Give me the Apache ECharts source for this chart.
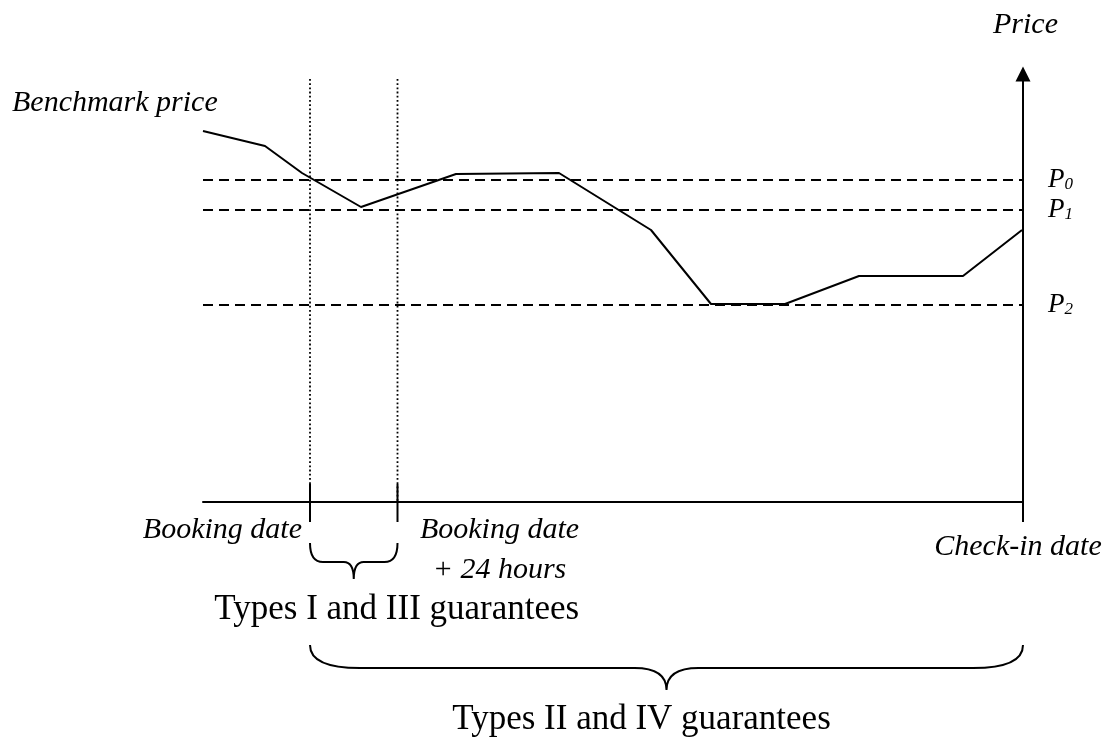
<!DOCTYPE html>
<html><head><meta charset="utf-8">
<script src="https://cdn.jsdelivr.net/npm/echarts@6/dist/echarts.min.js"></script>
<style>html,body{margin:0;padding:0;background:#fff}#c{width:1114px;height:740px}</style>
</head><body><div id="c"></div>
<script>
// ---- data ----
const dates = [0, 6.2, 9.9, 15.8, 25.3, 35.6, 44.8, 50.8, 58.2, 65.6, 76, 81.9];
const benchmarkPrice = [92.75, 89, 82.25, 73.75, 82, 82.25, 68, 49.5, 49.5, 56.5, 56.5, 68];
const priceLevels = [80.5, 73, 49.25];
const priceLevelSubs = ['0', '1', '2'];
const keyDates = [10.7, 19.45, 82];
const keyDateLabels = ['Booking date', 'Booking date\n+ 24 hours', 'Check-in date'];
const guaranteeLabels = ['Types I and III guarantees', 'Types II and IV guarantees'];
const seriesName = 'Benchmark price';
const axisName = 'Price';
const xMax = 82, yMax = 107;

// ---- styles ----
const SERIF = '"Liberation Serif", "Times New Roman", serif';
const ITAL30 = 'italic 30px ' + SERIF;
const ROMAN35 = '35px ' + SERIF;
const black = '#000';

function brace(xL, xR, y0, y1, y2, rc, rm, xm) {
  const d = `M${xL} ${y0} Q${xL} ${y1} ${xL + rc} ${y1} L${xm - rm} ${y1} Q${xm} ${y1} ${xm} ${y2} ` +
            `M${xm} ${y2} Q${xm} ${y1} ${xm + rm} ${y1} L${xR - rc} ${y1} Q${xR} ${y1} ${xR} ${y0}`;
  return { type: 'path', shape: { pathData: d }, style: { fill: 'none', stroke: black, lineWidth: 2 } };
}

function txt(x, y, text, font, align, vAlign, extra) {
  return { type: 'text', x: x, y: y, style: Object.assign({ text: text, font: font, fill: black, align: align, verticalAlign: vAlign }, extra || {}) };
}

function renderAnnotations(params, api) {
  const axisY = api.coord([0, 0])[1];
  const xB = api.coord([keyDates[0], 0])[0];
  const x24 = api.coord([keyDates[1], 0])[0];
  const xC = api.coord([keyDates[2], 0])[0];
  const topY = api.coord([0, yMax])[1];
  const first = api.coord([dates[0], benchmarkPrice[0]]);
  const ch = [];
  [xB, x24].forEach(x => ch.push({ type: 'line', shape: { x1: x, y1: topY + 5, x2: x, y2: axisY },
    style: { stroke: black, lineWidth: 1.8, lineDash: [1.8, 2.4] } }));
  [xB, x24].forEach(x => ch.push({ type: 'line', shape: { x1: x, y1: axisY - 18, x2: x, y2: axisY + 20 },
    style: { stroke: black, lineWidth: 2 } }));
  ch.push({ type: 'line', shape: { x1: xC, y1: axisY, x2: xC, y2: axisY + 20 }, style: { stroke: black, lineWidth: 2 } });
  ch.push(brace(xB, x24, axisY + 41, axisY + 60, axisY + 77, 13, 10, (xB + x24) / 2));
  ch.push(brace(xB, xC, axisY + 143, axisY + 166, axisY + 188, 50, 32, (xB + xC) / 2));
  ch.push(txt(xB - 8, axisY + 28, keyDateLabels[0], ITAL30, 'right', 'middle'));
  ch.push(txt(x24 + 102, axisY + 8, keyDateLabels[1], ITAL30, 'center', 'top', { lineHeight: 40 }));
  ch.push(txt(xC - 5, axisY + 45, keyDateLabels[2], ITAL30, 'center', 'middle'));
  ch.push(txt((xB + x24) / 2 + 43, axisY + 108, guaranteeLabels[0], ROMAN35, 'center', 'middle'));
  ch.push(txt((xB + xC) / 2 - 25, axisY + 218, guaranteeLabels[1], ROMAN35, 'center', 'middle'));
  ch.push(txt(first[0] - 191, first[1] - 28, seriesName, ITAL30, 'left', 'middle'));
  return { type: 'group', children: ch };
}

const chart = echarts.init(document.getElementById('c'), null, { renderer: 'canvas' });
chart.setOption({
  backgroundColor: '#fff',
  animation: false,
  grid: { left: 203, right: 91, top: 74, bottom: 238, containLabel: false, outerBoundsMode: 'none' },
  xAxis: {
    type: 'value', min: 0, max: xMax,
    axisLine: { show: true, onZero: false, lineStyle: { color: black, width: 2 } },
    axisTick: { show: false }, axisLabel: { show: false }, splitLine: { show: false }
  },
  yAxis: {
    type: 'value', min: 0, max: yMax, position: 'right',
    name: axisName, nameLocation: 'end', nameGap: 49,
    nameTextStyle: { fontFamily: SERIF, fontStyle: 'italic', fontSize: 30, color: black, align: 'center', verticalAlign: 'middle', padding: [0, 0, 0, 5] },
    axisLine: { show: true, onZero: false, symbol: ['none', 'triangle'], symbolSize: [15, 15], lineStyle: { color: black, width: 2 } },
    axisTick: { show: false }, axisLabel: { show: false }, splitLine: { show: false }
  },
  series: [
    {
      name: seriesName, type: 'line', symbol: 'none', silent: true,
      data: dates.map((d, i) => [d, benchmarkPrice[i]]),
      lineStyle: { color: black, width: 2 },
      markLine: {
        silent: true, symbol: 'none',
        lineStyle: { color: black, width: 2, type: [10, 6] },
        label: {
          show: true, position: 'end', distance: 25, color: black,
          formatter: p => '{p|P}{s|' + p.name + '}',
          rich: {
            p: { fontFamily: SERIF, fontStyle: 'italic', fontSize: 27, color: black },
            s: { fontFamily: SERIF, fontStyle: 'italic', fontSize: 17, color: black, verticalAlign: 'bottom' }
          }
        },
        emphasis: { disabled: true },
        data: priceLevels.map((v, i) => ({ yAxis: v, name: priceLevelSubs[i] }))
      }
    },
    {
      type: 'custom', coordinateSystem: 'cartesian2d', silent: true, clip: false,
      data: [[0, 0]],
      renderItem: renderAnnotations
    }
  ]
});
</script>
</body></html>
